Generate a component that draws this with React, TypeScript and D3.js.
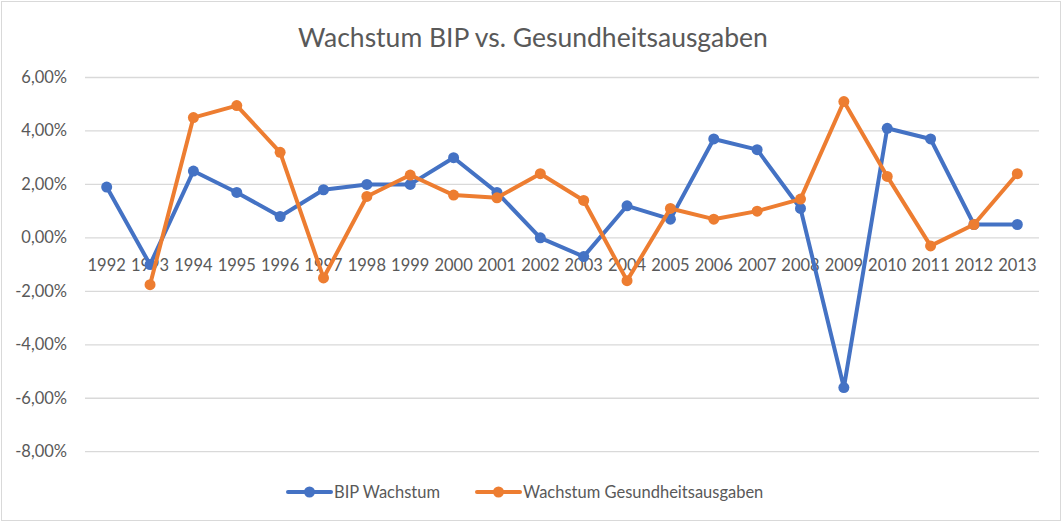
import * as d3 from "d3";
import { useEffect, useRef } from "react";

const years = ["1992", "1993", "1994", "1995", "1996", "1997", "1998", "1999", "2000", "2001", "2002",
  "2003", "2004", "2005", "2006", "2007", "2008", "2009", "2010", "2011", "2012", "2013"];
const bipWachstum = [1.9, -1.0, 2.5, 1.7, 0.8, 1.8, 2.0, 2.0, 3.0, 1.7, 0.0,
  -0.7, 1.2, 0.7, 3.7, 3.3, 1.1, -5.6, 4.1, 3.7, 0.5, 0.5];
const gesundheit = [null, -1.75, 4.5, 4.95, 3.2, -1.5, 1.55, 2.35, 1.6, 1.5, 2.4,
  1.4, -1.6, 1.1, 0.7, 1.0, 1.45, 5.1, 2.3, -0.3, 0.5, 2.4];
const yTicks = [6, 4, 2, 0, -2, -4, -6, -8];

const series = [
  { name: "BIP Wachstum", values: bipWachstum, color: "#4472C4" },
  { name: "Wachstum Gesundheitsausgaben", values: gesundheit, color: "#ED7D31" },
];

const W = 1062, H = 522;
const FONT = "Lato, 'Open Sans', sans-serif";

const App = () => {
  const ref: any = useRef();

  useEffect(() => {
    const svg = d3.select(ref.current);
    svg.selectAll("*").remove();

    const x = d3.scalePoint().domain(years).range([85, 1039]).padding(0.5);
    const y = d3.scaleLinear().domain([-8, 6]).range([451.7, 77.5]);

    svg.append("rect")
      .attr("x", 1.5).attr("y", 1.5).attr("width", W - 3).attr("height", H - 3)
      .attr("fill", "#fff").attr("stroke", "#d9d9d9").attr("stroke-width", 1);

    // title
    svg.append("text")
      .attr("x", W / 2 + 2).attr("y", 47)
      .attr("text-anchor", "middle")
      .attr("font-family", FONT).attr("font-size", 26.5)
      .attr("fill", "#595959")
      .text("Wachstum BIP vs. Gesundheitsausgaben");

    // gridlines + y labels
    const fmt = (v: number) => v.toFixed(2).replace(".", ",") + "%";
    svg.append("g").selectAll("line").data(yTicks).join("line")
      .attr("x1", 85).attr("x2", 1039)
      .attr("y1", d => y(d)).attr("y2", d => y(d))
      .attr("stroke", "#d9d9d9").attr("stroke-width", 1.3);
    svg.append("g").selectAll("text").data(yTicks).join("text")
      .attr("x", 67).attr("y", d => y(d) + 5.5)
      .attr("text-anchor", "end")
      .attr("font-family", FONT).attr("font-size", 16.5)
      .attr("fill", "#595959")
      .text(d => fmt(d));

    // x labels at zero line
    svg.append("g").selectAll("text").data(years).join("text")
      .attr("x", d => x(d)!).attr("y", y(0) + 33)
      .attr("text-anchor", "middle")
      .attr("font-family", FONT).attr("font-size", 16.5)
      .attr("fill", "#595959")
      .text(d => d);

    // series
    series.forEach(s => {
      const pts = s.values.map((v, i) => ({ year: years[i], v })).filter(p => p.v !== null) as any[];
      const line = d3.line<any>().x(p => x(p.year)!).y(p => y(p.v));
      svg.append("path")
        .attr("d", line(pts))
        .attr("fill", "none")
        .attr("stroke", s.color).attr("stroke-width", 4)
        .attr("stroke-linejoin", "round").attr("stroke-linecap", "round");
      svg.append("g").selectAll("circle").data(pts).join("circle")
        .attr("cx", p => x(p.year)!).attr("cy", p => y(p.v))
        .attr("r", 5.5).attr("fill", s.color);
    });

    // legend
    const legend = [
      { x: 288, s: series[0] },
      { x: 477, s: series[1] },
    ];
    legend.forEach(l => {
      const g = svg.append("g");
      g.append("line")
        .attr("x1", l.x).attr("x2", l.x + 43).attr("y1", 492).attr("y2", 492)
        .attr("stroke", l.s.color).attr("stroke-width", 4).attr("stroke-linecap", "round");
      g.append("circle").attr("cx", l.x + 21.5).attr("cy", 492).attr("r", 5.5).attr("fill", l.s.color);
      g.append("text")
        .attr("x", l.x + 46).attr("y", 498)
        .attr("font-family", FONT).attr("font-size", 16.5)
        .attr("fill", "#595959")
        .text(l.s.name);
    });
  }, []);

  return <svg ref={ref} width={W} height={H} style={{ position: "absolute", left: 0, top: 0 }} />;
};

export default App;
